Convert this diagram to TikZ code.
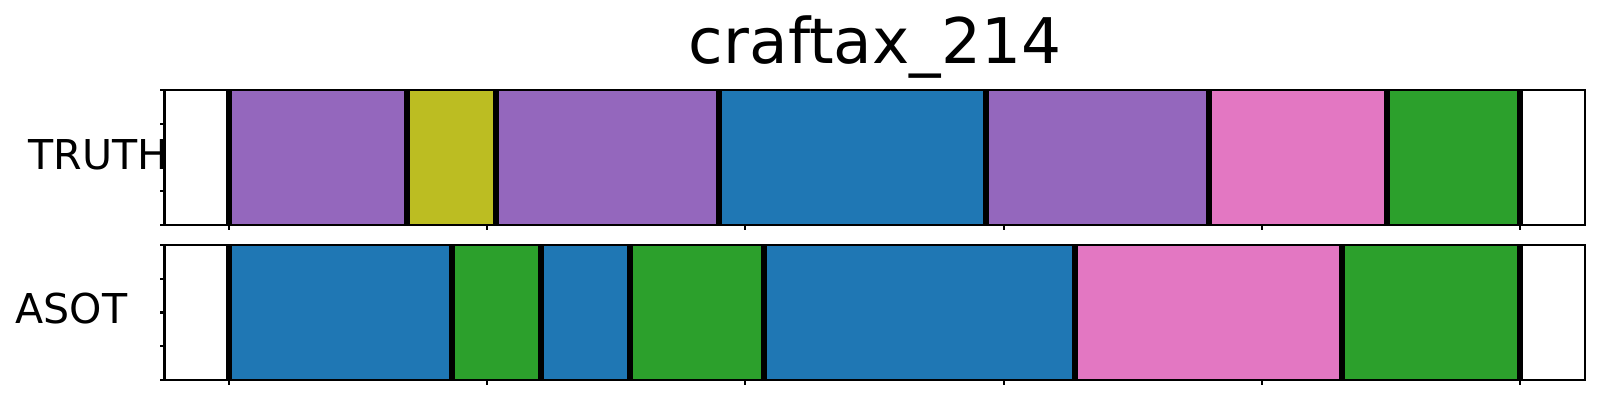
\documentclass[tikz,border=0pt]{standalone}
\usepackage{fontspec}
\setmainfont{DejaVu Sans}
\definecolor{tabblue}{HTML}{1F77B4}
\definecolor{tabgreen}{HTML}{2CA02C}
\definecolor{tabpurple}{HTML}{9467BD}
\definecolor{tabolive}{HTML}{BCBD22}
\definecolor{tabpink}{HTML}{E377C2}
\tikzset{
    spine/.style={line width=0.6pt},
    bnd/.style={line width=1.7pt},
    rowlabel/.style={anchor=base west,inner sep=0pt,font=\fontsize{11.7}{14}\selectfont}
}
\begin{document}
\begin{tikzpicture}
                \useasboundingbox (0,0) rectangle (16,4);
                \node[anchor=base,inner sep=0pt,font=\fontsize{17.9}{22}\selectfont] (title) at (8.75,3.367) {craftax\_214};
                \node[rowlabel] (truth) at (0.28,2.31) {TRUTH};
                \node[rowlabel] (asot) at (0.15,0.77) {ASOT};
                \begin{scope}[xshift=2.29cm,x=2.582cm]
                \foreach \a/\b/\c in {0/0.688/tabpurple,0.688/1.0325/tabolive,1.0325/1.898/tabpurple,1.898/2.931/tabblue,2.931/3.797/tabpurple,3.797/4.483/tabpink,4.483/5/tabgreen}
                {
                    \fill[\c] (\a,1.75) rectangle (\b,3.10);
                }
                \foreach \a/\b/\c in {0/0.862/tabblue,0.862/1.208/tabgreen,1.208/1.553/tabblue,1.553/2.072/tabgreen,2.072/3.276/tabblue,3.276/4.309/tabpink,4.309/5/tabgreen}
                {
                    \fill[\c] (\a,0.20) rectangle (\b,1.55);
                }
                \foreach \x in {0,0.688,1.0325,1.898,2.931,3.797,4.483,5}
                {
                    \draw[bnd] (\x,1.75) -- (\x,3.10);
                }
                \foreach \x in {0,0.862,1.208,1.553,2.072,3.276,4.309,5}
                {
                    \draw[bnd] (\x,0.20) -- (\x,1.55);
                }
                \draw[spine] (-0.25,1.75) rectangle (5.25,3.10);
                \draw[spine] (-0.25,0.20) rectangle (5.25,1.55);
                \foreach \x in {0,1,...,5}
                {
                    \draw[spine] (\x,1.75) -- (\x,1.705);
                    \draw[spine] (\x,0.20) -- (\x,0.155);
                }
                \foreach \y in {0,0.25,0.5,0.75,1}
                {
                    \draw[spine] (-0.25,{1.75+1.35*\y}) -- ++(-0.045cm,0);
                    \draw[spine] (-0.25,{0.20+1.35*\y}) -- ++(-0.045cm,0);
                }
                \end{scope}
            \end{tikzpicture}
\end{document}
